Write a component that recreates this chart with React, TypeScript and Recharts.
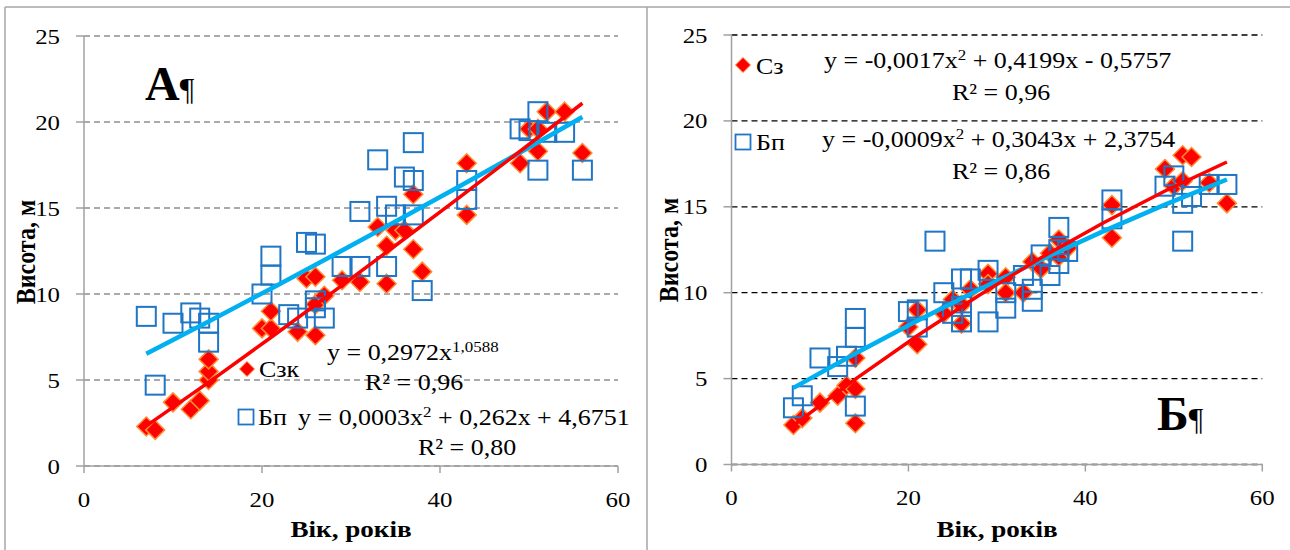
import React from 'react';
import { ScatterChart, Scatter, XAxis, YAxis, CartesianGrid } from 'recharts';

const FONT = '"Liberation Serif", "Times New Roman", serif';
const SX = 1.13; // the picture is a bit stretched sideways

// ---- panel А: Сзк (red diamonds) ----
const szkAgeA = [7, 8, 10, 12, 13, 14, 14, 14, 20, 21, 21, 24, 25, 26, 26, 26, 27, 29, 31, 33, 34, 34, 35, 36, 37, 37, 38, 43, 43, 49, 50, 51, 51, 52, 54, 56];
const szkHeightA = [2.3, 2.1, 3.7, 3.3, 3.8, 5.0, 5.5, 6.2, 8.0, 8.0, 9.0, 7.8, 10.9, 11.0, 9.4, 7.6, 9.9, 10.8, 10.7, 13.9, 12.8, 10.6, 13.7, 13.7, 15.8, 12.6, 11.3, 17.6, 14.6, 17.6, 19.6, 19.6, 18.3, 20.6, 20.6, 18.2];

// ---- panel А: Бп (blue squares) ----
const bpAgeA = [7, 8, 10, 12, 13, 14, 14, 20, 21, 21, 23, 24, 25, 26, 26, 26, 27, 29, 31, 31, 33, 34, 34, 35, 36, 37, 37, 37, 38, 43, 43, 49, 50, 51, 51, 52, 54, 56];
const bpHeightA = [8.7, 4.7, 8.3, 8.9, 8.6, 8.3, 7.2, 10.0, 11.1, 12.2, 8.8, 8.6, 13.0, 12.9, 9.6, 9.2, 8.6, 11.6, 11.6, 14.8, 17.8, 15.1, 11.6, 14.6, 16.8, 18.8, 16.6, 14.6, 10.2, 16.6, 15.5, 19.6, 19.5, 20.6, 17.2, 19.4, 19.4, 17.2];

// ---- panel Б: Сз (red diamonds) ----
const szAgeB = [7, 8, 10, 12, 13, 14, 14, 14, 20, 21, 21, 24, 25, 26, 26, 27, 29, 29, 31, 31, 33, 34, 35, 36, 37, 37, 38, 43, 43, 49, 50, 51, 51, 52, 54, 56];
const szHeightB = [2.3, 2.7, 3.6, 4.0, 4.6, 4.4, 2.4, 6.2, 8.0, 9.0, 7.0, 8.8, 9.6, 8.2, 9.3, 10.2, 11.1, 10.5, 10.9, 10.0, 10.0, 11.8, 11.4, 12.3, 13.1, 12.1, 12.6, 15.1, 13.2, 17.2, 16.2, 18.0, 16.5, 17.9, 16.4, 15.2];

// ---- panel Б: Бп (blue squares) ----
const bpAgeB = [7, 8, 10, 12, 13, 14, 14, 14, 20, 21, 21, 23, 24, 25, 26, 26, 26, 27, 29, 29, 31, 31, 33, 34, 34, 35, 36, 37, 37, 37, 38, 43, 43, 49, 50, 51, 51, 52, 54, 56];
const bpHeightB = [3.3, 4.0, 6.2, 5.7, 6.3, 3.4, 7.4, 8.5, 8.9, 9.0, 8.0, 13.0, 10.0, 8.8, 10.8, 9.2, 8.3, 10.8, 11.3, 8.3, 10.0, 9.1, 11.0, 10.2, 9.5, 12.2, 11.0, 13.8, 12.5, 11.7, 12.4, 15.4, 14.3, 16.2, 16.8, 15.2, 13.0, 15.6, 16.3, 16.3];

// ---- trend lines ----
const trendAge = [7, 14, 21, 28, 35, 42, 49, 56];
const szkTrendA = [2.33, 4.86, 7.47, 10.12, 12.82, 15.55, 18.3, 21.09];
const bpTrendA = [6.52, 8.4, 10.31, 12.25, 14.21, 16.21, 18.23, 20.29];
const szTrendB = [2.28, 4.97, 7.49, 9.85, 12.04, 14.06, 15.92, 17.61];
const bpTrendB = [4.46, 6.46, 8.37, 10.19, 11.92, 13.57, 15.13, 16.59];

const yTicks = [0, 5, 10, 15, 20, 25];
const xTicks = [0, 20, 40, 60];

const toPoints = (xs: number[], ys: number[]) => xs.map((x, i) => ({ x, y: ys[i] }));

const Diamond = (props: any) => {
  const { cx, cy } = props;
  if (cx == null || cy == null) return <g />;
  const r = 9.5;
  return (
    <polygon
      points={`${cx},${cy - r} ${cx + r},${cy} ${cx},${cy + r} ${cx - r},${cy}`}
      fill="#ff0000"
      stroke="#ff8c33"
      strokeWidth={1.5}
    />
  );
};

const Square = (props: any) => {
  const { cx, cy } = props;
  if (cx == null || cy == null) return <g />;
  const s = 9.5;
  return <rect x={cx - s} y={cy - s} width={2 * s} height={2 * s} fill="none" stroke="#1f76c6" strokeWidth={2} />;
};

const NoDot = () => <g />;

const YTick = ({ x, y, payload }: any) => (
  <g transform={`translate(${x},${y})`}>
    <text transform={`scale(${SX},1)`} textAnchor="end" y={7.5} fontFamily={FONT} fontSize={22} fill="#000">
      {payload.value}
    </text>
  </g>
);

const XTick = ({ x, y, payload }: any) => (
  <g transform={`translate(${x},${y})`}>
    <text transform={`scale(${SX},1)`} textAnchor="middle" y={20} fontFamily={FONT} fontSize={22} fill="#000">
      {payload.value}
    </text>
  </g>
);

const T = ({ x, y, size = 23, anchor = 'start', weight = 'normal', sx = SX, children }: any) => (
  <g transform={`translate(${x},${y})`}>
    <text transform={`scale(${sx},1)`} fontSize={size} fontFamily={FONT} fontWeight={weight} textAnchor={anchor} fill="#000">
      {children}
    </text>
  </g>
);

const AXIS = '#a0a0a0';

interface PanelProps {
  left: number;
  margin: { top: number; right: number; bottom: number; left: number };
  gridColor: string;
  red: { x: number; y: number }[];
  blue: { x: number; y: number }[];
  redTrend: { x: number; y: number }[];
  blueTrend: { x: number; y: number }[];
}

const Panel = ({ left, margin, gridColor, red, blue, redTrend, blueTrend }: PanelProps) => (
  <div style={{ position: 'absolute', left, top: 0 }}>
    <ScatterChart width={645} height={550} margin={margin}>
      <CartesianGrid vertical={false} stroke={gridColor} strokeDasharray="6 4" strokeWidth={1.3} />
      <XAxis
        type="number"
        dataKey="x"
        domain={[0, 60]}
        ticks={xTicks}
        height={40}
        tickSize={7}
        tickMargin={14}
        axisLine={{ stroke: AXIS, strokeWidth: 1.5 }}
        tickLine={{ stroke: AXIS, strokeWidth: 1.5 }}
        tick={<XTick />}
        allowDataOverflow
      />
      <YAxis
        type="number"
        dataKey="y"
        domain={[0, 25]}
        ticks={yTicks}
        width={60}
        tickSize={8}
        tickMargin={16}
        axisLine={{ stroke: AXIS, strokeWidth: 1.5 }}
        tickLine={{ stroke: AXIS, strokeWidth: 1.5 }}
        tick={<YTick />}
        allowDataOverflow
      />
      <Scatter data={red} shape={<Diamond />} isAnimationActive={false} />
      <Scatter data={blue} shape={<Square />} isAnimationActive={false} />
      <Scatter data={blueTrend} line={{ stroke: '#00b0f0', strokeWidth: 4.5 }} shape={<NoDot />} isAnimationActive={false} />
      <Scatter data={redTrend} line={{ stroke: '#ff0000', strokeWidth: 3.5 }} shape={<NoDot />} isAnimationActive={false} />
    </ScatterChart>
  </div>
);

const Sup = ({ children }: any) => (
  <>
    <tspan dy={-8} fontSize={15}>{children}</tspan>
  </>
);

export default function App() {
  return (
    <div style={{ position: 'absolute', left: 0, top: 0, width: 1290, height: 550, background: '#fff', overflow: 'hidden' }}>
      <Panel
        left={0}
        margin={{ top: 36, right: 27, bottom: 44, left: 24 }}
        gridColor="#8f8f8f"
        red={toPoints(szkAgeA, szkHeightA)}
        blue={toPoints(bpAgeA, bpHeightA)}
        redTrend={toPoints(trendAge, szkTrendA)}
        blueTrend={toPoints(trendAge, bpTrendA)}
      />
      <Panel
        left={645}
        margin={{ top: 35, right: 27.7, bottom: 45.5, left: 26.5 }}
        gridColor="#000"
        red={toPoints(szAgeB, szHeightB)}
        blue={toPoints(bpAgeB, bpHeightB)}
        redTrend={toPoints(trendAge, szTrendB)}
        blueTrend={toPoints(trendAge, bpTrendB)}
      />
      <svg width={1290} height={550} style={{ position: 'absolute', left: 0, top: 0, pointerEvents: 'none' }}>
        {/* frames */}
        <line x1={5} y1={7} x2={1290} y2={7} stroke="#a6a6a6" strokeWidth={1.5} />
        <line x1={5} y1={7} x2={5} y2={550} stroke="#a6a6a6" strokeWidth={1.5} />
        <line x1={647} y1={7} x2={647} y2={550} stroke="#a6a6a6" strokeWidth={1.5} />

        {/* axis titles */}
        <text transform="translate(35,252) rotate(-90) scale(1,1.13)" textAnchor="middle" fontFamily={FONT} fontSize={24} fontWeight="bold">Висота, м</text>
        <text transform="translate(678,250) rotate(-90) scale(1,1.13)" textAnchor="middle" fontFamily={FONT} fontSize={24} fontWeight="bold">Висота, м</text>
        <T x={351} y={537} size={24} anchor="middle" weight="bold">Вік, років</T>
        <T x={997} y={537} size={24} anchor="middle" weight="bold">Вік, років</T>

        {/* panel letters */}
        <T x={145} y={100} size={48} weight="bold" sx={1}>А<tspan fontWeight="normal" fontSize={32}>¶</tspan></T>
        <T x={1157} y={430} size={48} weight="bold" sx={1}>Б<tspan fontWeight="normal" fontSize={32}>¶</tspan></T>

        {/* panel А legend + equations */}
        <polygon points="247,361.5 254.5,369 247,376.5 239.5,369" fill="#ff0000" stroke="#ff8c33" strokeWidth={1} />
        <T x={259} y={377}>Сзк</T>
        <T x={327} y={360}>y = 0,2972x<tspan dy={-8.5} fontSize={15}>1,0588</tspan></T>
        <T x={365} y={390}>R² = 0,96</T>
        <rect x={238.5} y={409.5} width={15} height={15} fill="none" stroke="#1f76c6" strokeWidth={1.8} />
        <T x={258} y={425}>Бп</T>
        <T x={298} y={425}>y = 0,0003x<Sup>2</Sup><tspan dy={8}> + 0,262x + 4,6751</tspan></T>
        <T x={418} y={455}>R² = 0,80</T>

        {/* panel Б legend + equations */}
        <polygon points="743,57.5 750.5,65 743,72.5 735.5,65" fill="#ff0000" stroke="#ff8c33" strokeWidth={1} />
        <T x={756} y={74}>Сз</T>
        <T x={824} y={68}>y = -0,0017x<Sup>2</Sup><tspan dy={8}> + 0,4199x - 0,5757</tspan></T>
        <T x={952} y={100}>R² = 0,96</T>
        <rect x={735.5} y={134.5} width={15} height={15} fill="none" stroke="#1f76c6" strokeWidth={1.8} />
        <T x={756} y={150}>Бп</T>
        <T x={822} y={147}>y = -0,0009x<Sup>2</Sup><tspan dy={8}> + 0,3043x + 2,3754</tspan></T>
        <T x={952} y={179}>R² = 0,86</T>
      </svg>
    </div>
  );
}
